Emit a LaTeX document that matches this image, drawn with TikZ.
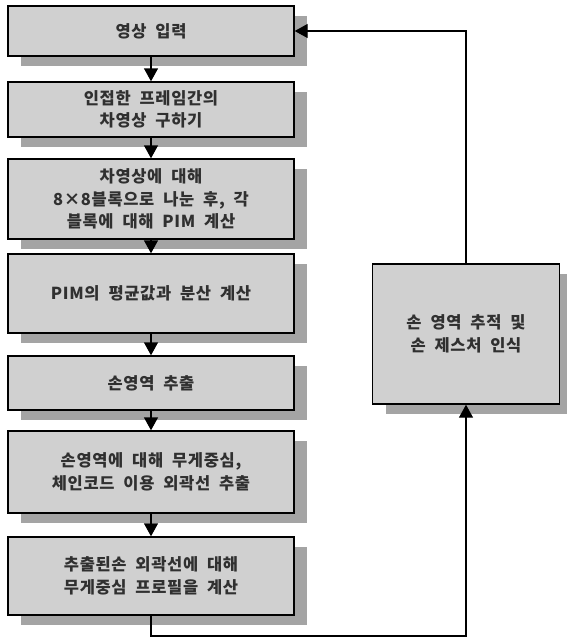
\documentclass[tikz,border=0pt]{standalone}
\usepackage{fontspec}
\setmainfont{Noto Sans CJK KR}
\newfontfamily\boxfont[LetterSpace=4,WordSpace=2]{Noto Sans CJK KR}
\usetikzlibrary{arrows.meta,shadows}
\definecolor{boxfill}{HTML}{D0D0D0}
\definecolor{shadowgray}{HTML}{A4A4A4}
\definecolor{txt}{HTML}{303030}
\begin{document}
\begin{tikzpicture}[x=1pt,y=-1pt,
  box/.style={draw=black, line width=1.4pt, fill=boxfill, align=center,
    text=txt, font=\boxfont\fontsize{16.5}{22.5}\selectfont\bfseries,
    drop shadow={shadow xshift=13pt, shadow yshift=-10pt, fill=shadowgray, opacity=1},
    inner sep=0pt},
  lbox/.style={box, minimum width=286pt},
  arr/.style={line width=1.4pt, draw=black, -{Triangle[width=14pt,length=13pt]}}]
\useasboundingbox (0,0) rectangle (566,638);
\node[lbox, minimum height=50pt] (b1) at (151,31) {영상 입력};
\node[lbox, minimum height=55pt] (b2) at (151,109.5) {인접한 프레임간의\\차영상 구하기};
\node[lbox, minimum height=80pt] (b3) at (151,199) {차영상에 대해\\8×8블록으로 나눈 후, 각\\블록에 대해 PIM 계산};
\node[lbox, minimum height=79pt] (b4) at (151,293.5) {PIM의 평균값과 분산 계산};
\node[lbox, minimum height=54pt] (b5) at (151,383) {손영역 추출};
\node[lbox, minimum height=82pt] (b6) at (151,472) {손영역에 대해 무게중심,\\체인코드 이용 외곽선 추출};
\node[lbox, minimum height=78pt] (b7) at (151,576) {추출된손 외곽선에 대해\\무게중심 프로필을 계산};
\node[box, minimum width=187pt, minimum height=140pt] (r) at (466,334) {손 영역 추적 및\\손 제스처 인식};
\draw[arr] (b1) -- (b2);
\draw[arr] (b2) -- (b3);
\draw[arr] (b3) -- (b4);
\draw[arr] (b4) -- (b5);
\draw[arr] (b5) -- (b6);
\draw[arr] (b6) -- (b7);
\coordinate (c1) at (466,636);
\draw[arr] (b7.south) |- (c1) -- (r.south);
\draw[arr] (r.north) |- (b1.east);
\end{tikzpicture}
\end{document}
